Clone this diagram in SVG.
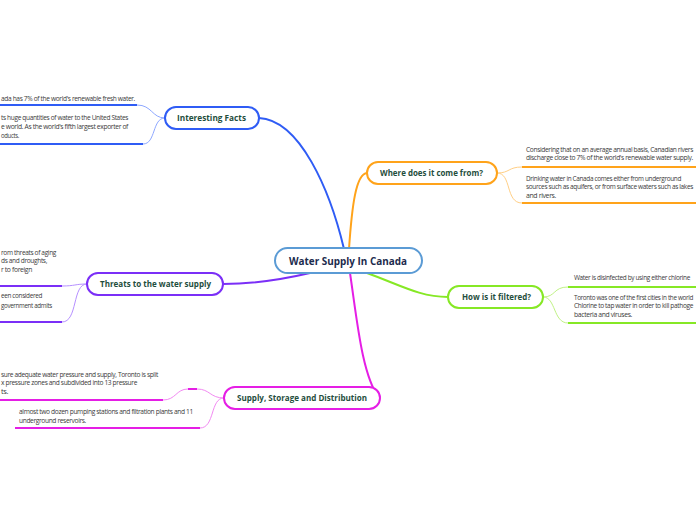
<svg xmlns="http://www.w3.org/2000/svg" width="696" height="520" viewBox="0 0 696 520">
<style>
.bg{fill:#ffffff}
.node rect{fill:#ffffff;stroke-width:2}
.lbl{font-family:"Open Sans","Noto Sans",sans-serif;font-weight:700;font-size:9px;fill:#1f4e3d}
.clbl{font-family:"Open Sans","Noto Sans",sans-serif;font-weight:700;font-size:11px;fill:#1c2b4d}
.txt{font-family:"Open Sans","Noto Sans",sans-serif;font-size:6.5px;letter-spacing:-0.35px;fill:#3a3a3a}
.c{fill:none}
.main{stroke-width:2}
.sub{stroke-width:1}
.ul{stroke-width:2}
.blue{stroke:#2f5cf5}.lblue{stroke:#8ea8ff}
.org{stroke:#ffa31a}.lorg{stroke:#ffcf85}
.lime{stroke:#86e825}.llime{stroke:#c0f285}
.pur{stroke:#7b2ff7}.lpur{stroke:#b690ff}
.mag{stroke:#e51ee5}.lmag{stroke:#f28af2}
</style>
<rect class="bg" x="0" y="0" width="696" height="520"/>
<g id="connectors">
  <path class="c main blue" d="M344,249 C330,190 300,120 259,118"/>
  <path class="c main org" d="M349,249 C352,205 356,174 367,173"/>
  <path class="c main lime" d="M367,273 C400,285 420,297 448,297"/>
  <path class="c main pur" d="M310,273 C280,280 250,284 223,284"/>
  <path class="c main mag" d="M350,273 C357,320 362,375 379,398"/>
  <path class="c sub lblue" d="M137,105 C152,105 152,118 165,118"/>
  <path class="c sub lblue" d="M143,144 C156,144 152,118 165,118"/>
  <path class="c ul blue" d="M0,105 H137"/>
  <path class="c ul blue" d="M0,144 H143"/>
  <path class="c sub lpur" d="M62,286 C75,286 75,284 87,284"/>
  <path class="c sub lpur" d="M62,322 C78,322 72,284 87,284"/>
  <path class="c ul pur" d="M0,286 H62"/>
  <path class="c ul pur" d="M0,322 H62"/>
  <path class="c sub lmag" d="M163,400 C176,400 176,389 188,389 H197 C210,389 210,398 224,398"/>
  <path class="c ul mag" d="M188,389 H197"/>
  <path class="c sub lmag" d="M200,428 C215,428 210,398 224,398"/>
  <path class="c ul mag" d="M0,400 H163"/>
  <path class="c ul mag" d="M15,428 H200"/>
  <path class="c sub lorg" d="M497,173 C510,173 508,167 522,167"/>
  <path class="c sub lorg" d="M497,173 C512,173 505,203 522,203"/>
  <path class="c ul org" d="M522,167 H696"/>
  <path class="c ul org" d="M522,203 H696"/>
  <path class="c sub llime" d="M543,297 C556,297 553,287 568,287"/>
  <path class="c sub llime" d="M543,297 C556,297 553,323 568,323"/>
  <path class="c ul lime" d="M568,287 H696"/>
  <path class="c ul lime" d="M568,323 H696"/>
</g>
<g id="central" class="node">
  <rect x="275" y="248" width="147" height="25" rx="12.5" stroke="#5b9bd5"/>
  <text class="clbl" x="348" y="265" text-anchor="middle" textLength="118" lengthAdjust="spacingAndGlyphs">Water Supply In Canada</text>
</g>
<g id="interesting" class="node">
  <rect x="165" y="107" width="94" height="22" rx="11" stroke="#2f5cf5"/>
  <text class="lbl" x="177" y="121" textLength="69" lengthAdjust="spacingAndGlyphs">Interesting Facts</text>
</g>
<g id="where" class="node">
  <rect x="367" y="162" width="130" height="22" rx="11" stroke="#ffa31a"/>
  <text class="lbl" x="380" y="176" textLength="103" lengthAdjust="spacingAndGlyphs">Where does it come from?</text>
</g>
<g id="filtered" class="node">
  <rect x="448" y="286" width="95" height="22" rx="11" stroke="#86e825"/>
  <text class="lbl" x="462" y="300" textLength="69" lengthAdjust="spacingAndGlyphs">How is it filtered?</text>
</g>
<g id="threats" class="node">
  <rect x="87" y="273" width="136" height="22" rx="11" stroke="#7b2ff7"/>
  <text class="lbl" x="100" y="287" textLength="111" lengthAdjust="spacingAndGlyphs">Threats to the water supply</text>
</g>
<g id="supply" class="node">
  <rect x="224" y="387" width="156" height="22" rx="11" stroke="#e51ee5"/>
  <text class="lbl" x="237" y="401" textLength="130" lengthAdjust="spacingAndGlyphs">Supply, Storage and Distribution</text>
</g>
<g id="interesting-1">
  <text class="txt" x="1" y="101" textLength="134" lengthAdjust="spacingAndGlyphs">ada has 7% of the world's renewable fresh water.</text>
</g>
<g id="interesting-2">
  <text class="txt" x="1" y="120" textLength="127" lengthAdjust="spacingAndGlyphs">ts huge quantities of water to the United States</text>
  <text class="txt" x="1" y="129" textLength="127" lengthAdjust="spacingAndGlyphs">e world. As the world's fifth largest exporter of</text>
  <text class="txt" x="1" y="138" textLength="18" lengthAdjust="spacingAndGlyphs">oducts.</text>
</g>
<g id="threats-1">
  <text class="txt" x="1" y="255" textLength="55" lengthAdjust="spacingAndGlyphs">rom threats of aging</text>
  <text class="txt" x="1" y="263" textLength="46" lengthAdjust="spacingAndGlyphs">ds and droughts,</text>
  <text class="txt" x="1" y="272" textLength="31" lengthAdjust="spacingAndGlyphs">r to foreign</text>
</g>
<g id="threats-2">
  <text class="txt" x="1" y="298" textLength="41" lengthAdjust="spacingAndGlyphs">een considered</text>
  <text class="txt" x="1" y="308" textLength="51" lengthAdjust="spacingAndGlyphs">government admits</text>
</g>
<g id="supply-1">
  <text class="txt" x="1" y="377" textLength="157" lengthAdjust="spacingAndGlyphs">sure adequate water pressure and supply, Toronto is split</text>
  <text class="txt" x="1" y="385" textLength="136" lengthAdjust="spacingAndGlyphs">x pressure zones and subdivided into 13 pressure</text>
  <text class="txt" x="1" y="394" textLength="7" lengthAdjust="spacingAndGlyphs">ts.</text>
</g>
<g id="supply-2">
  <text class="txt" x="19" y="414" textLength="174" lengthAdjust="spacingAndGlyphs">almost two dozen pumping stations and filtration plants and 11</text>
  <text class="txt" x="19" y="423" textLength="67" lengthAdjust="spacingAndGlyphs">underground reservoirs.</text>
</g>
<g id="where-1">
  <text class="txt" x="526" y="152" textLength="167" lengthAdjust="spacingAndGlyphs">Considering that on an average annual basis, Canadian rivers</text>
  <text class="txt" x="526" y="160" textLength="167" lengthAdjust="spacingAndGlyphs">discharge close to 7% of the world's renewable water supply.</text>
</g>
<g id="where-2">
  <text class="txt" x="526" y="181" textLength="155" lengthAdjust="spacingAndGlyphs">Drinking water in Canada comes either from underground</text>
  <text class="txt" x="526" y="189" textLength="167" lengthAdjust="spacingAndGlyphs">sources such as aquifers, or from surface waters such as lakes</text>
  <text class="txt" x="526" y="198" textLength="30" lengthAdjust="spacingAndGlyphs">and rivers.</text>
</g>
<g id="filtered-1">
  <text class="txt" x="574" y="280" textLength="116" lengthAdjust="spacingAndGlyphs">Water is disinfected by using either chlorine</text>
</g>
<g id="filtered-2">
  <text class="txt" x="574" y="300" textLength="119" lengthAdjust="spacingAndGlyphs">Toronto was one of the first cities in the world</text>
  <text class="txt" x="574" y="308" textLength="119" lengthAdjust="spacingAndGlyphs">Chlorine to tap water in order to kill pathoge</text>
  <text class="txt" x="574" y="317" textLength="58" lengthAdjust="spacingAndGlyphs">bacteria and viruses.</text>
</g>
</svg>
